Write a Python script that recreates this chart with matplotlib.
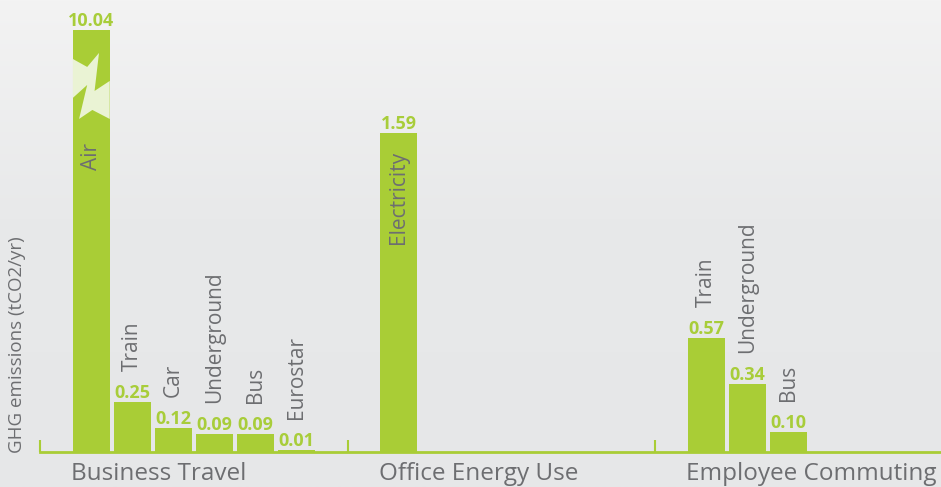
import matplotlib
matplotlib.use("Agg")
import matplotlib.pyplot as plt
import numpy as np
from matplotlib.colors import LinearSegmentedColormap

plt.rcParams['font.family'] = ['Open Sans', 'DejaVu Sans']

# data
groups = ["Business Travel", "Office Energy Use", "Employee Commuting"]
business_labels = ["Air", "Train", "Car", "Underground", "Bus", "Eurostar"]
business_values = [10.04, 0.25, 0.12, 0.09, 0.09, 0.01]
office_labels = ["Electricity"]
office_values = [1.59]
commute_labels = ["Train", "Underground", "Bus"]
commute_values = [0.57, 0.34, 0.10]
ylabel = "GHG emissions (tCO2/yr)"

GREEN = "#a9cd36"
VALUE_GREEN = "#a8cd3a"
GREY = "#6d6e71"
PX = 0.72           # points per pixel at dpi 100
UNIT_PX = 200.5     # pixels per tCO2 on the y axis
CAP = 2.105         # air bar is broken off at this height
INSIDE = {"Air": -113, "Electricity": -18}   # label offsets (px) inside bars

fig = plt.figure(figsize=(9.41, 4.87), dpi=100)

# gradient background
bg = fig.add_axes([0, 0, 1, 1])
cmap = LinearSegmentedColormap.from_list("bg", [(0, "#f3f3f3"), (0.45, "#e8e9ea"), (1, "#e6e7e8")])
bg.imshow(np.linspace(0, 1, 256).reshape(-1, 1), aspect="auto", cmap=cmap, extent=[0, 1, 0, 1])
bg.axis("off")

ax = fig.add_axes([40 / 941, 35 / 487, 901 / 941, 452 / 487])
ax.patch.set_alpha(0)
ax.set_xlim(0, 901 / 41)
ax.set_ylim(0, 452 / UNIT_PX)
for s in ["top", "right", "left"]:
    ax.spines[s].set_visible(False)
ax.spines["bottom"].set_color(GREEN)
ax.spines["bottom"].set_linewidth(2)
ax.set_xticks([])
ax.set_yticks([])

group_width = 7.5
bar_w = 0.9
all_sets = [(business_labels, business_values), (office_labels, office_values),
            (commute_labels, commute_values)]

for g, (labels, values) in enumerate(all_sets):
    start = g * group_width
    ax.vlines(start, 0, 12 / UNIT_PX, color=GREEN, lw=1.5, clip_on=False)
    xs = start + 1.25 + np.arange(len(values))
    shown = [min(v, CAP) for v in values]
    ax.bar(xs, shown, width=bar_w, color=GREEN, zorder=2)
    ax.annotate(groups[g], (xs[0] - bar_w / 2, 0), xytext=(-1, -22 * PX),
                textcoords="offset points", ha="left", va="center",
                fontsize=17.5, color=GREY, annotation_clip=False)
    for x, v, h, lab in zip(xs, values, shown, labels):
        ax.annotate(f"{v:.2f}", (x, h), xytext=(0, 9 * PX), textcoords="offset points",
                    ha="center", va="center", fontsize=13, fontweight="bold",
                    color=VALUE_GREEN, annotation_clip=False)
        if lab in INSIDE and g != 2:
            ax.annotate(lab, (x, h), xytext=(0, INSIDE[lab] * PX), textcoords="offset points",
                        ha="center", va="top", rotation=90, fontsize=15, color=GREY, zorder=4)
        else:
            ax.annotate(lab, (x, h), xytext=(0, 31 * PX), textcoords="offset points",
                        ha="center", va="bottom", rotation=90, fontsize=15, color=GREY)
        if v > CAP:
            # lightning break mark
            pts = [(0, 29), (0.39, 37), (0.71, 23), (0.59, 61), (1, 51), (1, 89),
                   (0.53, 80), (0.17, 89), (0.39, 55), (0, 68)]
            px_ = [x - bar_w / 2 + f * bar_w for f, d in pts]
            py_ = [h - d / UNIT_PX for f, d in pts]
            ax.fill(px_, py_, color="#eaf3d4", zorder=3, lw=0)

fig.text(17 / 941, 1 - 345 / 487, ylabel, rotation=90, ha="center", va="center",
         fontsize=13.5, color=GREY)

fig.savefig("out.png", dpi=100)
